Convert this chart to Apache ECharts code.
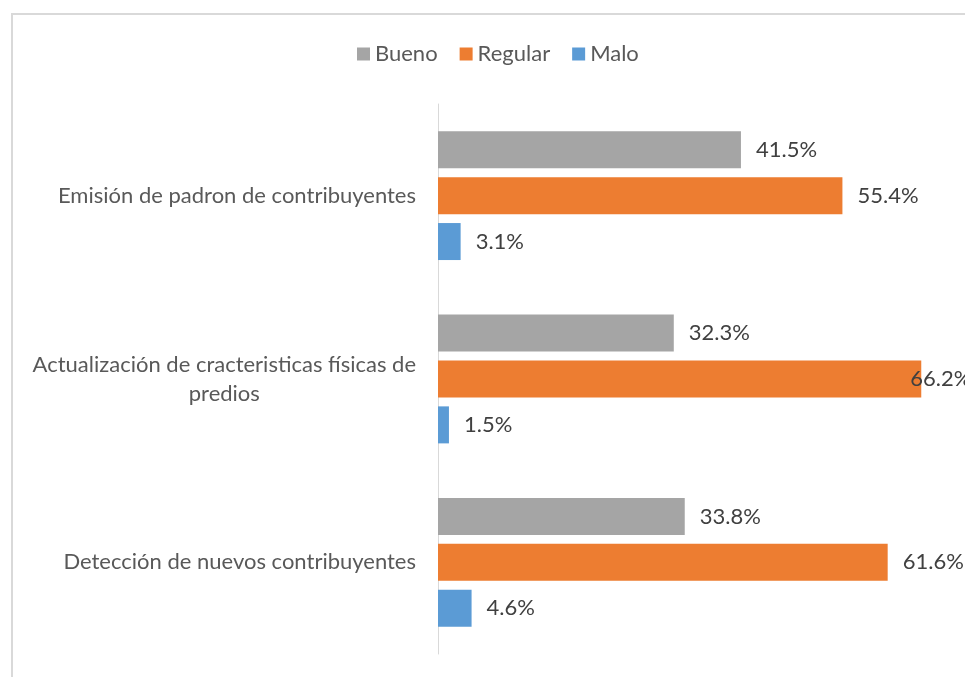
<!DOCTYPE html>
<html>
<head>
<meta charset="utf-8">
<script src="https://cdn.jsdelivr.net/npm/echarts@6/dist/echarts.min.js"></script>
<style>
  html, body { margin: 0; padding: 0; background: #fff; }
  #chart { width: 965px; height: 677px; }
</style>
</head>
<body>
<div id="chart"></div>
<script>
// categories, top to bottom
const categories = [
  'Emisión de padron de contribuyentes',
  'Actualización de cracteristicas físicas de\npredios',
  'Detección de nuevos contribuyentes'
];
const seriesNames = ['Bueno', 'Regular', 'Malo'];
const bueno = [41.5, 32.3, 33.8];
const regular = [55.4, 66.2, 61.6];
const malo = [3.1, 1.5, 4.6];
const colors = ['#a5a5a5', '#ed7d31', '#5b9bd5'];

const FONT = 'Lato';
const FONT_SIZE = 22;
const AXIS_MAX = 70;

function barSeries(name, data, color) {
  return {
    name: name,
    type: 'bar',
    // labels that would run past the chart edge get pulled back over the bar (like Excel)
    data: data.map(v => v > 64 ? { value: v, label: { offset: [-26, 0] } } : v),
    barWidth: 37,
    barGap: '24%',
    itemStyle: { color: color },
    label: {
      show: true,
      position: 'right',
      distance: 15,
      color: '#404040',
      fontFamily: FONT,
      fontSize: FONT_SIZE,
      formatter: p => p.value.toFixed(1) + '%'
    }
  };
}

const chart = echarts.init(document.getElementById('chart'));
chart.setOption({
  animation: false,
  color: colors,
  graphic: [{
    type: 'rect',
    shape: { x: 12, y: 14, width: 1100, height: 800 },
    style: { fill: null, stroke: '#d9d9d9', lineWidth: 2 },
    z: -1
  }],
  legend: {
    left: 352,
    top: 38,
    itemWidth: 13,
    itemHeight: 13,
    itemGap: 22,
    icon: 'rect',
    textStyle: { color: '#595959', fontFamily: FONT, fontSize: FONT_SIZE },
    data: seriesNames
  },
  grid: { left: 438, top: 104, width: 511, height: 550, containLabel: false },
  xAxis: {
    type: 'value',
    min: 0,
    max: AXIS_MAX,
    show: false,
    splitLine: { show: false }
  },
  yAxis: {
    type: 'category',
    inverse: true,
    data: categories,
    axisLine: { show: true, lineStyle: { color: '#d9d9d9', width: 1 } },
    axisTick: { show: false },
    axisLabel: {
      margin: 22,
      color: '#595959',
      fontFamily: FONT,
      fontSize: FONT_SIZE,
      lineHeight: 29,
      formatter: v => v.split('\n').map(s => '{c|' + s + '}').join('\n'),
      rich: {
        c: { align: 'center', color: '#595959', fontFamily: FONT, fontSize: FONT_SIZE, lineHeight: 29 }
      }
    }
  },
  series: [
    barSeries(seriesNames[0], bueno, colors[0]),
    barSeries(seriesNames[1], regular, colors[1]),
    barSeries(seriesNames[2], malo, colors[2])
  ]
});
</script>
</body>
</html>
